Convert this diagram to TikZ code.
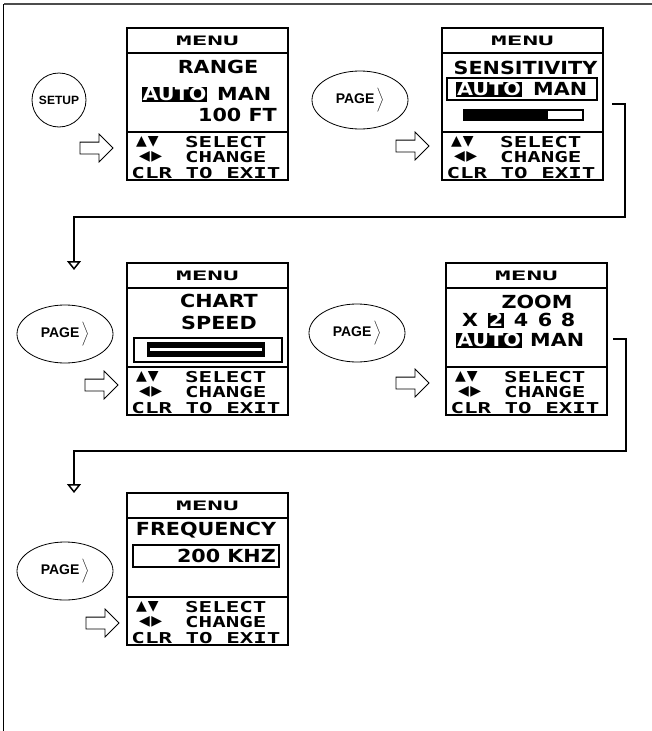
\documentclass[tikz,border=0pt]{standalone}
\usepackage{fontspec}
\setmainfont{Liberation Sans}
\newfontfamily\lcdfont[FakeStretch=1.15]{DejaVu Sans}
\newfontfamily\lcdmono[FakeStretch=1.5]{DejaVu Sans Mono}
\newfontfamily\menufont[FakeStretch=2]{DejaVu Sans Mono}
\newfontfamily\symfont{DejaVu Sans}
\usetikzlibrary{shapes,arrows.meta,positioning,calc}

\begin{document}
\begin{tikzpicture}[
    x=1pt, y=-1pt,
    screen/.style={rectangle, draw, line width=2pt, minimum width=161pt, minimum height=152pt, inner sep=0},
    rule/.style={line width=1.6pt},
    menu/.style={font=\menufont\bfseries\fontsize{13}{13}\selectfont, inner sep=0},
    big/.style={font=\lcdfont\bfseries\fontsize{18}{18}\selectfont, inner sep=0},
    hint/.style={font=\lcdmono\bfseries\fontsize{15}{15}\selectfont, inner sep=0},
    sym/.style={font=\symfont\fontsize{14}{14}\selectfont, inner sep=0},
    inv/.style={big, fill=black, text=white, inner sep=1pt, text height=13pt, text depth=0pt},
    setupkey/.style={circle, draw, line width=0.8pt, minimum size=54pt, inner sep=0, font=\bfseries\fontsize{12}{12}\selectfont},
    key/.style={ellipse, draw, line width=0.8pt, minimum width=96pt, minimum height=58pt, inner sep=0, font=\bfseries\fontsize{14}{14}\selectfont},
    push/.style={single arrow, draw, line width=0.8pt, minimum height=33pt, inner sep=0, text height=11pt, text depth=0pt, single arrow head extend=8pt},
    link/.style={line width=1.5pt, -{Triangle[open, width=14pt, length=9pt]}}
]
\useasboundingbox (0,0) rectangle (652,731);

% frame
\draw[black!70, line width=1.2pt] (4,4) -- (652,4);
\draw[line width=1.5pt] (3.5,4) -- (3.5,731);

% common parts of the five screens
\foreach \i/\ox/\oy in {1/127/28, 2/442/28, 3/127/263, 4/446/263, 5/127/493} {
  \begin{scope}[shift={(\ox,\oy)}]
    \node[screen] (s\i) at (80.5,76) {};
    \draw[rule] (0,25) -- (161,25);
    \draw[rule] (0,104) -- (161,104);
    \node[menu] (m\i) at (80.5,13) {MENU};
    \node[sym, anchor=west] (ud\i) at (9,114) {▲\kern1pt▼};
    \node[hint, anchor=west] (sel\i) at (58,114) {SELECT};
    \node[sym, anchor=west] (lr\i) at (12,129) {◀\kern1.5pt▶};
    \node[hint, anchor=west] (chg\i) at (58,129) {CHANGE};
    \node[hint] (clr\i) at (79,145) {CLR TO EXIT};
  \end{scope}
}

% screen 1 - range
\begin{scope}[shift={(127,28)}]
  \node[big] (range) at (91,39) {RANGE};
  \node[inv] (auto1) at (47.5,66) {AUTO};
  \node[big, anchor=west] (man1) at (90,66) {MAN};
  \node[big, anchor=east] (ft) at (150,87) {100 FT};
\end{scope}

% screen 2 - sensitivity
\begin{scope}[shift={(442,28)}]
  \node[big] (sens) at (83.5,40) {SENSITIVITY};
  \draw[line width=1.6pt] (5,50) rectangle (155,72);
  \node[inv] (auto2) at (47,61) {AUTO};
  \node[big, anchor=west] (man2) at (91,61) {MAN};
  \draw[line width=1.2pt] (22,82) rectangle (141,92);
  \fill (22,82) rectangle (106,92);
\end{scope}

% screen 3 - chart speed
\begin{scope}[shift={(127,263)}]
  \node[big] (chart) at (92,38) {CHART};
  \node[big] (speed) at (92,60) {SPEED};
  \draw[line width=1.6pt] (7,75) rectangle (155,99);
  \fill (20,79) rectangle (138,94);
  \fill[white] (23,85) rectangle (135,88);
\end{scope}

% screen 4 - zoom
\begin{scope}[shift={(446,263)}]
  \node[big] (zoom) at (91,39) {ZOOM};
  \node[big] (x) at (24,57) {X};
  \node[inv] (z2) at (50,57) {2};
  \node[big] (z4) at (75,57) {4};
  \node[big] (z6) at (99,57) {6};
  \node[big] (z8) at (122,57) {8};
  \node[inv] (auto4) at (43,77) {AUTO};
  \node[big, anchor=west] (man4) at (84,77) {MAN};
\end{scope}

% screen 5 - frequency
\begin{scope}[shift={(127,493)}]
  \node[big] (freq) at (79,37) {FREQUENCY};
  \draw[line width=1.6pt] (6,52) rectangle (152,74);
  \node[big, anchor=east] (khz) at (149,63) {200 KHZ};
\end{scope}

% keys
\node[setupkey] (setup) at (59,100) {SETUP};
\node[key] (page2) at (360,100) {PAGE\,$\bigg\rangle$};
\node[key] (page3) at (65,334) {PAGE\,$\bigg\rangle$};
\node[key] (page4) at (357,333) {PAGE\,$\bigg\rangle$};
\node[key] (page5) at (65,571) {PAGE\,$\bigg\rangle$};

% hollow arrows into the screens
\node[push] (a1) at (93.5,148) {};
\node[push] (a2) at (409.5,146) {};
\node[push] (a3) at (98.5,385) {};
\node[push] (a4) at (409.5,383) {};
\node[push] (a5) at (99.5,623) {};

% links to the next row
\coordinate (t3) at (74,270);
\coordinate (t5) at (74,493);
\draw[link] ([xshift=8pt]s2.east) -| ++(13,113) -| (t3);
\draw[link] ([xshift=5pt]s4.east) -| ++(13,112) -| (t5);

\end{tikzpicture}
\end{document}
